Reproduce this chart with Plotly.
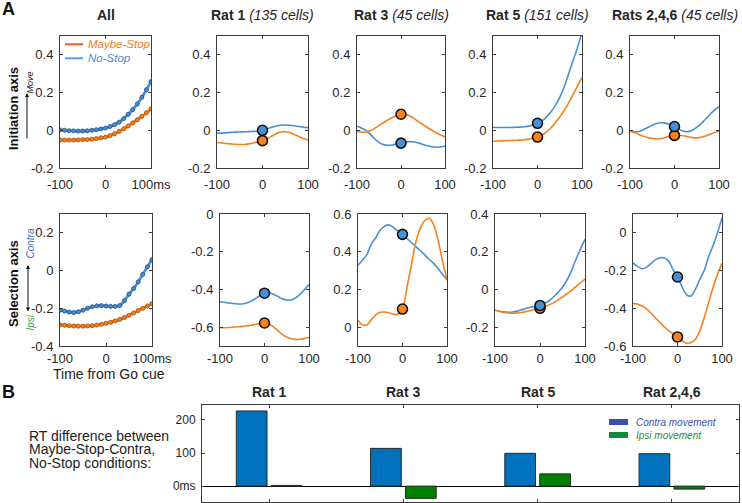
import plotly.graph_objects as go

# ---------------- data ----------------
T = list(range(-100, 101, 10))

init_all_nostop = [0.002, 0.0, -0.002, -0.003, -0.004, -0.004, -0.003, 0.0, 0.003, 0.007, 0.012, 0.02, 0.03, 0.043, 0.062, 0.085, 0.11, 0.14, 0.175, 0.215, 0.258]
init_all_maybe = [-0.052, -0.052, -0.052, -0.052, -0.051, -0.05, -0.049, -0.047, -0.044, -0.04, -0.036, -0.028, -0.018, -0.006, 0.008, 0.023, 0.039, 0.056, 0.074, 0.093, 0.113]
init_r1_nostop = [-0.016, -0.015, -0.013, -0.011, -0.01, -0.009, -0.008, -0.007, -0.006, -0.004, 0.0, 0.008, 0.016, 0.023, 0.027, 0.028, 0.027, 0.024, 0.02, 0.016, 0.014]
init_r1_maybe = [-0.065, -0.067, -0.07, -0.072, -0.074, -0.075, -0.075, -0.072, -0.067, -0.061, -0.055, -0.045, -0.032, -0.018, -0.009, -0.008, -0.013, -0.022, -0.033, -0.044, -0.052]
init_r3_nostop = [0.022, 0.012, 0.0, -0.02, -0.045, -0.064, -0.076, -0.08, -0.078, -0.073, -0.068, -0.062, -0.06, -0.062, -0.068, -0.075, -0.082, -0.087, -0.09, -0.088, -0.085]
init_r3_maybe = [-0.005, -0.01, -0.01, -0.003, 0.01, 0.025, 0.04, 0.055, 0.068, 0.079, 0.085, 0.084, 0.076, 0.062, 0.045, 0.03, 0.015, 0.0, -0.013, -0.025, -0.035]
init_r5_nostop = [0.016, 0.015, 0.015, 0.015, 0.015, 0.016, 0.017, 0.019, 0.022, 0.028, 0.037, 0.05, 0.07, 0.097, 0.132, 0.175, 0.23, 0.3, 0.37, 0.44, 0.52]
init_r5_maybe = [-0.058, -0.057, -0.056, -0.055, -0.054, -0.053, -0.052, -0.05, -0.047, -0.042, -0.036, -0.025, -0.01, 0.012, 0.04, 0.07, 0.105, 0.145, 0.19, 0.235, 0.28]
init_r246_nostop = [-0.003, -0.008, -0.006, 0.003, 0.015, 0.027, 0.036, 0.04, 0.038, 0.03, 0.02, 0.006, -0.005, -0.007, 0.0, 0.015, 0.035, 0.06, 0.085, 0.107, 0.125]
init_r246_maybe = [-0.005, -0.012, -0.022, -0.031, -0.039, -0.044, -0.046, -0.044, -0.038, -0.031, -0.027, -0.026, -0.029, -0.034, -0.039, -0.04, -0.037, -0.03, -0.021, -0.012, -0.005]

sel_all_nostop = [-0.21, -0.215, -0.22, -0.223, -0.218, -0.21, -0.2, -0.192, -0.187, -0.186, -0.188, -0.19, -0.19, -0.185, -0.16, -0.125, -0.095, -0.06, -0.02, 0.02, 0.058]
sel_all_maybe = [-0.288, -0.29, -0.292, -0.294, -0.295, -0.295, -0.294, -0.292, -0.289, -0.285, -0.28, -0.274, -0.267, -0.259, -0.249, -0.237, -0.225, -0.212, -0.2, -0.188, -0.175]
sel_r1_nostop = [-0.465, -0.468, -0.472, -0.475, -0.477, -0.477, -0.472, -0.462, -0.448, -0.432, -0.42, -0.418, -0.425, -0.437, -0.449, -0.456, -0.456, -0.445, -0.425, -0.4, -0.372]
sel_r1_maybe = [-0.603, -0.603, -0.602, -0.6, -0.598, -0.596, -0.593, -0.59, -0.585, -0.58, -0.578, -0.583, -0.598, -0.618, -0.638, -0.652, -0.661, -0.665, -0.664, -0.66, -0.655]
sel_r3_nostop = [0.329, 0.355, 0.385, 0.44, 0.475, 0.515, 0.535, 0.542, 0.528, 0.508, 0.492, 0.47, 0.449, 0.427, 0.405, 0.383, 0.36, 0.338, 0.31, 0.28, 0.25]
sel_r3_maybe = [0.037, 0.012, 0.012, 0.04, 0.065, 0.079, 0.08, 0.075, 0.068, 0.07, 0.096, 0.21, 0.33, 0.45, 0.525, 0.565, 0.577, 0.542, 0.46, 0.35, 0.25]
sel_r5_nostop = [-0.11, -0.115, -0.119, -0.121, -0.12, -0.115, -0.108, -0.1, -0.094, -0.089, -0.085, -0.075, -0.06, -0.04, -0.015, 0.012, 0.05, 0.1, 0.16, 0.215, 0.265]
sel_r5_maybe = [-0.11, -0.116, -0.122, -0.125, -0.126, -0.125, -0.122, -0.117, -0.111, -0.105, -0.1, -0.092, -0.082, -0.07, -0.056, -0.04, -0.024, -0.005, 0.015, 0.035, 0.055]
sel_r246_nostop = [-0.159, -0.178, -0.19, -0.183, -0.163, -0.143, -0.133, -0.133, -0.15, -0.195, -0.234, -0.285, -0.327, -0.335, -0.3, -0.248, -0.2, -0.125, -0.067, 0.0, 0.079]
sel_r246_maybe = [-0.375, -0.378, -0.388, -0.402, -0.425, -0.45, -0.475, -0.498, -0.518, -0.535, -0.552, -0.572, -0.585, -0.582, -0.565, -0.52, -0.45, -0.37, -0.29, -0.22, -0.162]

panel_titles = ["<b>All</b>", "<b>Rat 1</b> <i>(135 cells)</i>", "<b>Rat 3</b> <i>(45 cells)</i>",
                "<b>Rat 5</b> <i>(151 cells)</i>", "<b>Rats 2,4,6</b> <i>(45 cells)</i>"]

rats = ["Rat 1", "Rat 3", "Rat 5", "Rat 2,4,6"]
rt_contra = [227, 114, 99, 98]
rt_ipsi = [2, -37, 37, -9]

# ---------------- styling ----------------
W, H = 742, 503
FONT = "Liberation Sans, Arial, sans-serif"
BLUE = "#4a8fd4"
ORANGE = "#f5811f"
TXT = "#262626"


def px(x):
    return x / W


def py(y):
    return 1 - y / H


top_x = [(60, 151), (217, 308), (357, 445), (493, 582), (630, 719)]
bot_x = [(60, 152), (220, 309), (358, 447), (495, 585), (633, 722)]
top_y = (36, 168)
bot_y = (214, 346)

init_sets = [(init_all_maybe, init_all_nostop), (init_r1_maybe, init_r1_nostop), (init_r3_maybe, init_r3_nostop),
             (init_r5_maybe, init_r5_nostop), (init_r246_maybe, init_r246_nostop)]
sel_sets = [(sel_all_maybe, sel_all_nostop), (sel_r1_maybe, sel_r1_nostop), (sel_r3_maybe, sel_r3_nostop),
            (sel_r5_maybe, sel_r5_nostop), (sel_r246_maybe, sel_r246_nostop)]

top_range = [-0.2, 0.5]
bot_ranges = [[-0.4, 0.3], [-0.7, 0.0], [-0.1, 0.6], [-0.3, 0.4], [-0.6, 0.1]]


def yticks(rng):
    vals = []
    for k in range(-5, 6):
        v = round(0.2 * k, 1)
        if rng[0] - 1e-9 <= v <= rng[1] + 1e-9:
            vals.append(v)
    txt = [("0" if abs(t) < 1e-9 else ("%g" % t)) for t in vals]
    return vals, txt


fig = go.Figure()
layout = {}

axis_common = dict(showline=True, linecolor="#3a3a3a", linewidth=1, mirror="ticks", ticks="inside",
                   ticklen=3, tickcolor="#3a3a3a", showgrid=False, zeroline=False, automargin=False,
                   tickfont=dict(size=13, color=TXT, family=FONT))

idx = 0
for row, (xs, ydom, sets) in enumerate([(top_x, top_y, init_sets), (bot_x, bot_y, sel_sets)]):
    for col in range(5):
        idx += 1
        xa = "x" if idx == 1 else "x%d" % idx
        ya = "y" if idx == 1 else "y%d" % idx
        rng = top_range if row == 0 else bot_ranges[col]
        tv, tt = yticks(rng)
        xt = ["-100", "0", "100ms" if col == 0 else "100"]
        layout["xaxis" if idx == 1 else "xaxis%d" % idx] = dict(
            axis_common, domain=[px(xs[col][0]), px(xs[col][1])], range=[-100, 100],
            tickvals=[-100, 0, 100], ticktext=xt, anchor=ya, ticklabelstandoff=4 if row == 0 else 0)
        layout["yaxis" if idx == 1 else "yaxis%d" % idx] = dict(
            axis_common, domain=[py(ydom[1]), py(ydom[0])], range=rng,
            tickvals=tv, ticktext=tt, anchor=xa, ticklabelstandoff=3)
        maybe, nostop = sets[col]
        if col == 0:
            fig.add_trace(go.Scatter(x=T, y=nostop, mode="lines+markers",
                                     line=dict(color=BLUE, width=2.8, shape="spline"),
                                     marker=dict(size=4, color=BLUE, line=dict(color="#2d5e96", width=1)),
                                     xaxis=xa, yaxis=ya, showlegend=False))
            fig.add_trace(go.Scatter(x=T, y=maybe, mode="lines+markers",
                                     line=dict(color=ORANGE, width=2.8, shape="spline"),
                                     marker=dict(size=4, color=ORANGE, line=dict(color="#b35a12", width=1)),
                                     xaxis=xa, yaxis=ya, showlegend=False))
        else:
            fig.add_trace(go.Scatter(x=T, y=nostop, mode="lines", line=dict(color=BLUE, width=1.6, shape="spline"),
                                     xaxis=xa, yaxis=ya, showlegend=False))
            fig.add_trace(go.Scatter(x=T, y=maybe, mode="lines", line=dict(color=ORANGE, width=1.6, shape="spline"),
                                     xaxis=xa, yaxis=ya, showlegend=False))
            i0 = T.index(0)
            fig.add_trace(go.Scatter(x=[T[i0]], y=[maybe[i0]], mode="markers",
                                     marker=dict(size=10, color=ORANGE, line=dict(color="#111", width=1.6)),
                                     xaxis=xa, yaxis=ya, showlegend=False, cliponaxis=False))
            fig.add_trace(go.Scatter(x=[T[i0]], y=[nostop[i0]], mode="markers",
                                     marker=dict(size=10, color=BLUE, line=dict(color="#111", width=1.6)),
                                     xaxis=xa, yaxis=ya, showlegend=False, cliponaxis=False))

# ---------------- bar panel ----------------
cat_x = [1, 2, 3, 4]
fig.add_trace(go.Bar(x=cat_x, y=rt_contra, marker=dict(color="#0072BD", line=dict(color="#2a2a2a", width=1)),
                     xaxis="x11", yaxis="y11", showlegend=False, name="Contra movement"))
fig.add_trace(go.Bar(x=cat_x, y=rt_ipsi, marker=dict(color="#008000", line=dict(color="#2a2a2a", width=1)),
                     xaxis="x11", yaxis="y11", showlegend=False, name="Ipsi movement"))
layout["xaxis11"] = dict(axis_common, domain=[px(202), px(739)], range=[0.5, 4.5], tickvals=cat_x,
                         showticklabels=False, anchor="y11")
layout["yaxis11"] = dict(axis_common, domain=[py(502), py(405)], range=[-48, 245], tickvals=[0, 100, 200],
                         ticktext=["0ms", "100", "200"], anchor="x11", zeroline=True, zerolinecolor="#000",
                         zerolinewidth=1, tickfont=dict(size=12, color=TXT, family=FONT), ticklabelstandoff=3)

annotations = []
shapes = []

# panel titles
for col in range(5):
    xa = "x" if col == 0 else "x%d" % (col + 1)
    annotations.append(dict(text=panel_titles[col], xref=xa + " domain", x=0.5, yref="paper", y=py(15),
                            showarrow=False, font=dict(size=14, color=TXT), xanchor="center", yanchor="middle"))
# bar group titles
for i, r in enumerate(rats):
    annotations.append(dict(text="<b>%s</b>" % r, xref="x11", x=cat_x[i], yref="paper", y=py(392),
                            showarrow=False, font=dict(size=14, color=TXT), xanchor="center", yanchor="middle"))

# panel letters
annotations.append(dict(text="<b>A</b>", xref="paper", yref="paper", x=px(8), y=py(9), showarrow=False,
                        font=dict(size=18, color="#111"), xanchor="center", yanchor="middle"))
annotations.append(dict(text="<b>B</b>", xref="paper", yref="paper", x=px(8), y=py(392), showarrow=False,
                        font=dict(size=18, color="#111"), xanchor="center", yanchor="middle"))

# axis labels
annotations.append(dict(text="<b>Initiation axis</b>", xref="paper", yref="paper", x=px(13), y=py(109),
                        showarrow=False, textangle=-90, font=dict(size=13, color="#111"),
                        xanchor="center", yanchor="middle"))
annotations.append(dict(text="<b>Selection axis</b>", xref="paper", yref="paper", x=px(13), y=py(284),
                        showarrow=False, textangle=-90, font=dict(size=13, color="#111"),
                        xanchor="center", yanchor="middle"))
annotations.append(dict(text="<i>Move</i>", xref="paper", yref="paper", x=px(29.5), y=py(83),
                        showarrow=False, textangle=-90, font=dict(size=9, color="#222"),
                        xanchor="center", yanchor="middle"))
annotations.append(dict(text="", xref="paper", yref="paper", x=px(27), y=py(93), ax=0, ay=47,
                        showarrow=True, arrowhead=2, arrowsize=0.8, arrowwidth=1, arrowcolor="#111", standoff=0))
annotations.append(dict(text="", xref="paper", yref="paper", x=px(28), y=py(265), ax=0, ay=48,
                        showarrow=True, arrowhead=2, arrowside="end+start", arrowsize=0.8, arrowwidth=1,
                        arrowcolor="#111", standoff=0, startstandoff=0))
annotations.append(dict(text="<i>Contra</i>", xref="paper", yref="paper", x=px(29.5), y=py(244),
                        showarrow=False, textangle=-90, font=dict(size=10, color="#3d6bc4"),
                        xanchor="center", yanchor="middle"))
annotations.append(dict(text="<i>Ipsi</i>", xref="paper", yref="paper", x=px(29.5), y=py(323),
                        showarrow=False, textangle=-90, font=dict(size=10, color="#45a845"),
                        xanchor="center", yanchor="middle"))
annotations.append(dict(text="Time from Go cue", xref="paper", yref="paper", x=px(109), y=py(374),
                        showarrow=False, font=dict(size=14, color="#222"), xanchor="center", yanchor="middle"))

# B text
for i, line in enumerate(["RT difference between", "Maybe-Stop-Contra,", "No-Stop conditions:"]):
    annotations.append(dict(text=line, xref="paper", yref="paper", x=px(27), y=py(435.5 + 13.8 * i),
                            showarrow=False, font=dict(size=14, color="#222"), xanchor="left", yanchor="middle"))

# legend (top-left panel)
for i, (lab, lc, tc) in enumerate([("Maybe-Stop", "#f05a28", "#f47b20"), ("No-Stop", "#5b9bd5", "#4a8ad0")]):
    yy = 44.3 + 14 * i
    shapes.append(dict(type="line", xref="paper", yref="paper", x0=px(65), x1=px(83), y0=py(yy), y1=py(yy),
                       line=dict(color=lc, width=2)))
    annotations.append(dict(text="<i>%s</i>" % lab, xref="paper", yref="paper", x=px(86), y=py(yy),
                            showarrow=False, font=dict(size=11.5, color=tc), xanchor="left", yanchor="middle"))

# legend (bar panel)
for i, (lab, pc, tc) in enumerate([("Contra movement", "#3a50b0", "#3f4fb0"), ("Ipsi movement", "#138a3a", "#2b8a2b")]):
    yy = 422 + 13 * i
    shapes.append(dict(type="rect", xref="paper", yref="paper", x0=px(609), x1=px(628), y0=py(yy + 3),
                       y1=py(yy - 3), line=dict(width=0), fillcolor=pc))
    annotations.append(dict(text="<i>%s</i>" % lab, xref="paper", yref="paper", x=px(634), y=py(yy),
                            showarrow=False, font=dict(size=10, color=tc), xanchor="left", yanchor="middle"))

fig.update_layout(template="none", width=W, height=H, margin=dict(l=0, r=0, t=0, b=0, pad=0),
                  paper_bgcolor="white", plot_bgcolor="white", showlegend=False, hovermode=False,
                  font=dict(family=FONT, size=13, color=TXT),
                  barmode="group", bargap=0.48, bargroupgap=0.12,
                  annotations=annotations, shapes=shapes, **layout)

fig.write_html("out.html", config={"displayModeBar": False},
               post_script="document.body.style.margin='0px';document.body.style.overflow='hidden';")
